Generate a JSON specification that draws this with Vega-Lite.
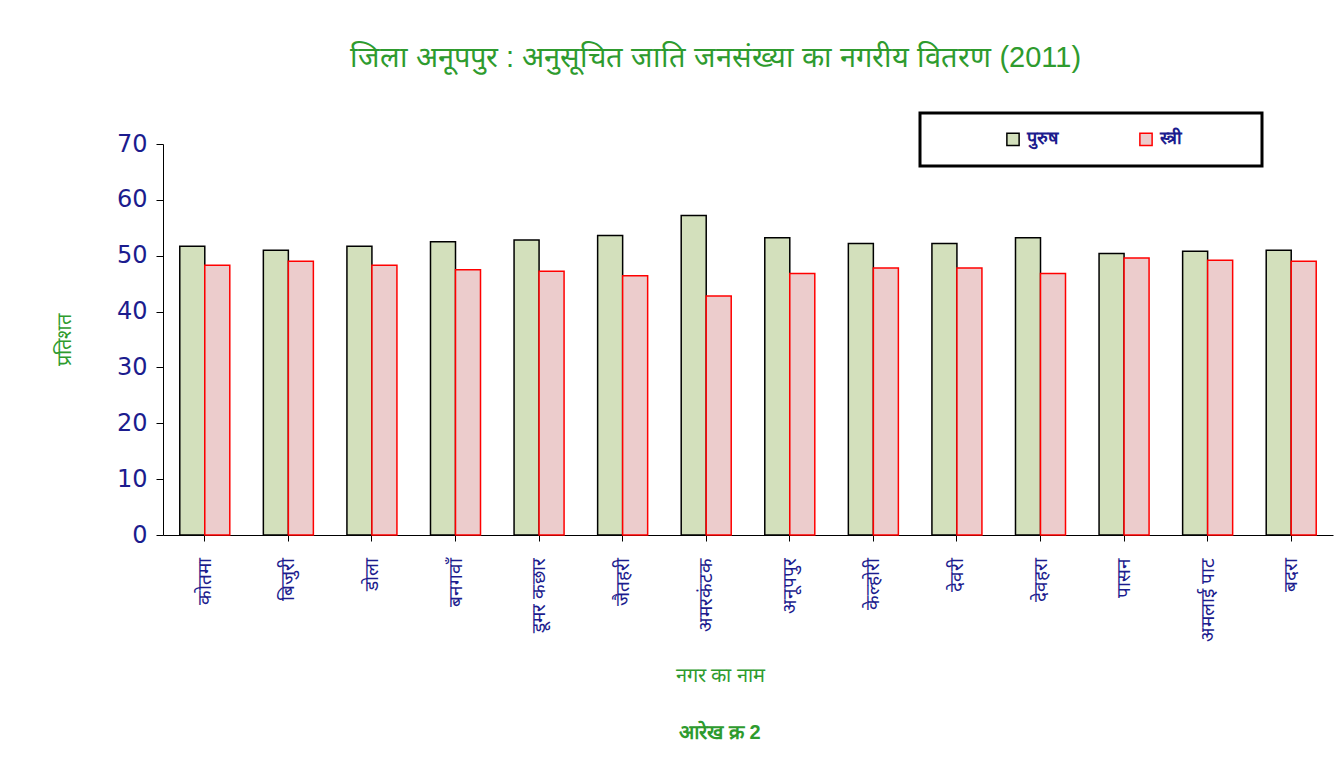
{
  "$schema": "https://vega.github.io/schema/vega-lite/v6.json",
  "width": 1170,
  "height": 391,
  "autosize": {"type": "none"},
  "padding": {"left": 163, "top": 144, "right": 2, "bottom": 230},
  "background": "white",
  "title": {"text": "आरेख क्र 2", "orient": "bottom", "anchor": "middle", "dx": -28, "offset": 38, "fontSize": 20, "fontWeight": "bold", "color": "#2e9b2e", "font": "Liberation Sans"},
  "data": {"values": [
    {"town": "कोतमा", "sex": "पुरुष", "value": 51.7}, {"town": "कोतमा", "sex": "स्त्री", "value": 48.3},
    {"town": "बिजुरी", "sex": "पुरुष", "value": 51.0}, {"town": "बिजुरी", "sex": "स्त्री", "value": 49.0},
    {"town": "डोला", "sex": "पुरुष", "value": 51.7}, {"town": "डोला", "sex": "स्त्री", "value": 48.3},
    {"town": "बनगवाँ", "sex": "पुरुष", "value": 52.5}, {"town": "बनगवाँ", "sex": "स्त्री", "value": 47.5},
    {"town": "डूमर कछार", "sex": "पुरुष", "value": 52.8}, {"town": "डूमर कछार", "sex": "स्त्री", "value": 47.2},
    {"town": "जैतहरी", "sex": "पुरुष", "value": 53.6}, {"town": "जैतहरी", "sex": "स्त्री", "value": 46.4},
    {"town": "अमरकंटक", "sex": "पुरुष", "value": 57.2}, {"town": "अमरकंटक", "sex": "स्त्री", "value": 42.8},
    {"town": "अनूपपुर", "sex": "पुरुष", "value": 53.2}, {"town": "अनूपपुर", "sex": "स्त्री", "value": 46.8},
    {"town": "केल्होरी", "sex": "पुरुष", "value": 52.2}, {"town": "केल्होरी", "sex": "स्त्री", "value": 47.8},
    {"town": "देवरी", "sex": "पुरुष", "value": 52.2}, {"town": "देवरी", "sex": "स्त्री", "value": 47.8},
    {"town": "देवहरा", "sex": "पुरुष", "value": 53.2}, {"town": "देवहरा", "sex": "स्त्री", "value": 46.8},
    {"town": "पासन", "sex": "पुरुष", "value": 50.4}, {"town": "पासन", "sex": "स्त्री", "value": 49.6},
    {"town": "अमलाई पाट", "sex": "पुरुष", "value": 50.8}, {"town": "अमलाई पाट", "sex": "स्त्री", "value": 49.2},
    {"town": "बदरा", "sex": "पुरुष", "value": 51.0}, {"town": "बदरा", "sex": "स्त्री", "value": 49.0}
  ]},
  "layer": [
    {
      "mark": {"type": "bar", "strokeWidth": 1.5},
      "encoding": {
        "x": {
          "field": "town", "type": "nominal", "sort": null,
          "scale": {"paddingInner": 0, "paddingOuter": 0},
          "axis": {
            "orient": "bottom", "labelAngle": 270, "labelAlign": "right", "labelBaseline": "middle",
            "labelPadding": 16, "labelFontSize": 19, "labelFont": "Liberation Sans", "labelColor": "#1c1c8e",
            "tickSize": 6, "tickColor": "#000000", "domainColor": "#000000",
            "title": "नगर का नाम", "titleFontSize": 20, "titleFont": "Liberation Sans", "titleFontWeight": "normal",
            "titleColor": "#2e9b2e", "titlePadding": 24, "titleX": 557
          }
        },
        "xOffset": {"field": "sex", "type": "nominal", "sort": null, "scale": {"domain": ["पुरुष", "स्त्री"], "paddingInner": 0, "paddingOuter": 0.671}},
        "y": {
          "field": "value", "type": "quantitative",
          "scale": {"domain": [0, 70]},
          "axis": {
            "values": [0, 10, 20, 30, 40, 50, 60, 70], "grid": false,
            "labelFontSize": 24, "labelFont": "DejaVu Sans", "labelColor": "#1c1c8e", "labelPadding": 9,
            "tickSize": 7, "tickColor": "#000000", "domainColor": "#000000",
            "title": "प्रतिशत", "titleFontSize": 20, "titleFont": "Liberation Sans", "titleFontWeight": "normal",
            "titleColor": "#2e9b2e", "titlePadding": 42
          }
        },
        "fill": {
          "field": "sex", "type": "nominal",
          "scale": {"domain": ["पुरुष", "स्त्री"], "range": ["#d3e0bc", "#eccccc"]},
          "legend": {
            "orient": "none", "legendX": 757, "legendY": -31, "direction": "horizontal",
            "title": ".", "titleColor": "#ffffff", "titleOrient": "right", "titlePadding": 60, "titleFontSize": 10,
            "strokeColor": "#000000", "padding": 17,
            "symbolType": "square", "symbolSize": 150, "symbolStrokeWidth": 1.5, "symbolOffset": 67,
            "columnPadding": 12, "labelFontSize": 18, "labelFont": "Liberation Sans", "labelColor": "#1c1c8e",
            "labelFontWeight": "bold", "labelOffset": 5
          }
        },
        "stroke": {
          "field": "sex", "type": "nominal",
          "scale": {"domain": ["पुरुष", "स्त्री"], "range": ["#000000", "#ff0000"]}
        }
      }
    },
    {
      "mark": {"type": "text", "text": ""},
      "encoding": {
        "x": {
          "field": "town", "type": "nominal", "sort": null,
          "axis": {
            "orient": "top", "labels": false, "ticks": false, "domain": false,
            "title": "जिला अनूपपुर : अनुसूचित जाति जनसंख्या का नगरीय वितरण (2011)",
            "titleFontSize": 29, "titleFont": "Liberation Sans", "titleFontWeight": "normal",
            "titleColor": "#2e9b2e", "titlePadding": 72, "titleX": 552
          }
        }
      }
    }
  ],
  "resolve": {"axis": {"x": "independent"}},
  "config": {"view": {"stroke": null}, "legend": {"strokeWidth": 3}}
}
